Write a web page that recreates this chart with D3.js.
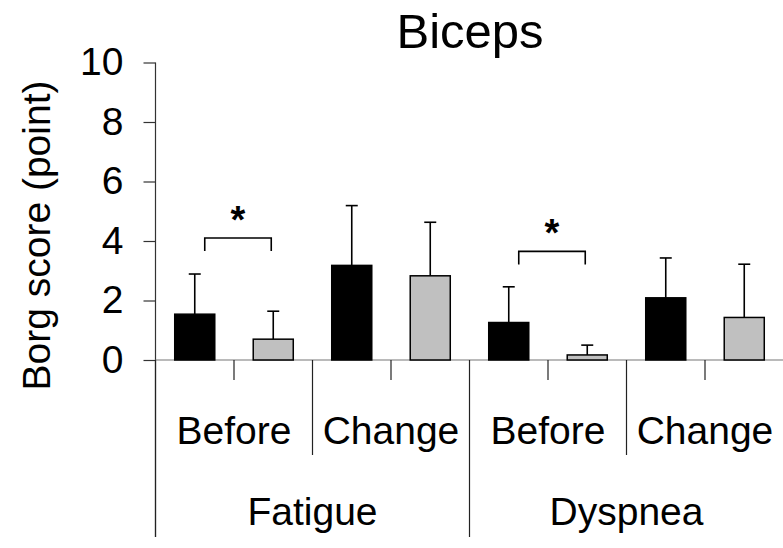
<!DOCTYPE html>
<html>
<head>
<meta charset="utf-8">
<script src="https://cdn.jsdelivr.net/npm/d3@7"></script>
<style>
  body { margin: 0; background: white; }
  text { font-family: "Liberation Sans", Arial, sans-serif; fill: black; }
</style>
</head>
<body>
<div id="chart"></div>
<script>
// data
var groups = ["Fatigue", "Dyspnea"];
var phases = ["Before", "Change"];
var series = ["black", "gray"];
var means = [1.54, 0.70, 3.18, 2.83, 1.26, 0.17, 2.09, 1.43];
var errTops = [2.89, 1.64, 5.19, 4.63, 2.46, 0.50, 3.43, 3.22];
var yTicks = [0, 2, 4, 6, 8, 10];
// significance brackets: index of first bar, bracket height
var sigBars = [0, 4];
var sigLevels = [4.1, 3.65];

var width = 783, height = 548;

var svg = d3.select("#chart")
  .append("svg")
  .attr("width", width)
  .attr("height", height);

// every bar is one slot: group x phase x series
var slots = [];
groups.forEach(function(g) {
  phases.forEach(function(p) {
    series.forEach(function(s) {
      slots.push(g + "|" + p + "|" + s);
    });
  });
});

var x = d3.scaleBand()
  .domain(slots)
  .range([155.5, 783.5])
  .paddingInner(0.49)
  .paddingOuter(0.245);

var y = d3.scaleLinear()
  .domain([0, 10])
  .range([360, 62.5]);

var step = x.step();
var left = x.range()[0];

// title
svg.append("text")
  .attr("x", 470)
  .attr("y", 48)
  .attr("text-anchor", "middle")
  .style("font-size", "49px")
  .text("Biceps");

// y axis
var yAxis = d3.axisLeft(y)
  .tickValues(yTicks)
  .tickSize(12)
  .tickPadding(20)
  .tickFormat(d3.format("d"));

var gy = svg.append("g")
  .attr("transform", "translate(" + left + ",0)")
  .call(yAxis);
gy.select(".domain").remove();
gy.selectAll(".tick line").attr("stroke", "#333").attr("stroke-width", 1.2);
gy.selectAll(".tick text")
  .style("font-size", "39px")
  .style("font-family", "'Liberation Sans', Arial, sans-serif")
  .attr("fill", "black");

// y axis line continues down past the baseline
svg.append("line")
  .attr("x1", left).attr("x2", left)
  .attr("y1", y(10)).attr("y2", 537)
  .attr("stroke", "#333").attr("stroke-width", 1.2);

// y title
svg.append("text")
  .attr("transform", "translate(50," + 235.5 + ") rotate(-90)")
  .attr("text-anchor", "middle")
  .style("font-size", "39px")
  .text("Borg score (point)");

// baseline
svg.append("line")
  .attr("x1", left).attr("x2", width)
  .attr("y1", y(0)).attr("y2", y(0))
  .attr("stroke", "#777").attr("stroke-width", 1.2);

// separators under the axis: short between bars, medium between phases, long between groups
var seps = d3.range(slots.length).map(function(i) {
  var len = 380;
  if (i % 4 === 0) len = 537;
  else if (i % 2 === 0) len = 455;
  return { x: left + i * step, y2: len };
});
svg.selectAll("line.sep")
  .data(seps)
  .enter()
  .append("line")
  .attr("class", "sep")
  .attr("x1", function(d) { return d.x; })
  .attr("x2", function(d) { return d.x; })
  .attr("y1", y(0))
  .attr("y2", function(d) { return d.y2; })
  .attr("stroke", "#222")
  .attr("stroke-width", 1.2);

// bars
var bars = slots.map(function(k, i) {
  return { key: k, mean: means[i], err: errTops[i], s: series[i % 2] };
});

svg.selectAll("rect.bar")
  .data(bars)
  .enter()
  .append("rect")
  .attr("class", "bar")
  .attr("x", function(d) { return x(d.key); })
  .attr("width", x.bandwidth())
  .attr("y", function(d) { return y(d.mean); })
  .attr("height", function(d) { return y(0) - y(d.mean); })
  .attr("fill", function(d) { return d.s === "black" ? "black" : "#c0c0c0"; })
  .attr("stroke", "black")
  .attr("stroke-width", 1.5);

// error bars (upper only)
var cx = function(d) { return x(d.key) + x.bandwidth() / 2; };
svg.selectAll("line.err")
  .data(bars)
  .enter()
  .append("line")
  .attr("class", "err")
  .attr("x1", cx).attr("x2", cx)
  .attr("y1", function(d) { return y(d.mean); })
  .attr("y2", function(d) { return y(d.err); })
  .attr("stroke", "black").attr("stroke-width", 1.6);

svg.selectAll("line.cap")
  .data(bars)
  .enter()
  .append("line")
  .attr("class", "cap")
  .attr("x1", function(d) { return cx(d) - 6; })
  .attr("x2", function(d) { return cx(d) + 6; })
  .attr("y1", function(d) { return y(d.err); })
  .attr("y2", function(d) { return y(d.err); })
  .attr("stroke", "black").attr("stroke-width", 1.6);

// phase labels
var phaseLabels = [];
groups.forEach(function(g, gi) {
  phases.forEach(function(p, pi) {
    phaseLabels.push({ text: p, x: left + (gi * 4 + pi * 2 + 1) * step });
  });
});
svg.selectAll("text.phase")
  .data(phaseLabels)
  .enter()
  .append("text")
  .attr("class", "phase")
  .attr("x", function(d) { return d.x; })
  .attr("y", 444)
  .attr("text-anchor", "middle")
  .style("font-size", "39px")
  .text(function(d) { return d.text; });

// group labels
svg.selectAll("text.group")
  .data(groups)
  .enter()
  .append("text")
  .attr("class", "group")
  .attr("x", function(d, i) { return left + (i * 4 + 2) * step; })
  .attr("y", 525)
  .attr("text-anchor", "middle")
  .style("font-size", "39px")
  .text(function(d) { return d; });

// significance brackets
var sig = sigBars.map(function(b, i) {
  return { x1: cx(bars[b]) + 10, x2: cx(bars[b + 1]) - 2, y: y(sigLevels[i]) };
});
svg.selectAll("path.sig")
  .data(sig)
  .enter()
  .append("path")
  .attr("class", "sig")
  .attr("d", function(d) {
    return "M" + d.x1 + "," + (d.y + 13) + "V" + d.y + "H" + d.x2 + "V" + (d.y + 13);
  })
  .attr("fill", "none")
  .attr("stroke", "black")
  .attr("stroke-width", 1.6);

svg.selectAll("text.star")
  .data(sig)
  .enter()
  .append("text")
  .attr("class", "star")
  .attr("x", function(d) { return (d.x1 + d.x2) / 2; })
  .attr("y", function(d) { return d.y - 5; })
  .attr("text-anchor", "middle")
  .style("font-size", "38px")
  .style("font-weight", "bold")
  .text("*");
</script>
</body>
</html>
